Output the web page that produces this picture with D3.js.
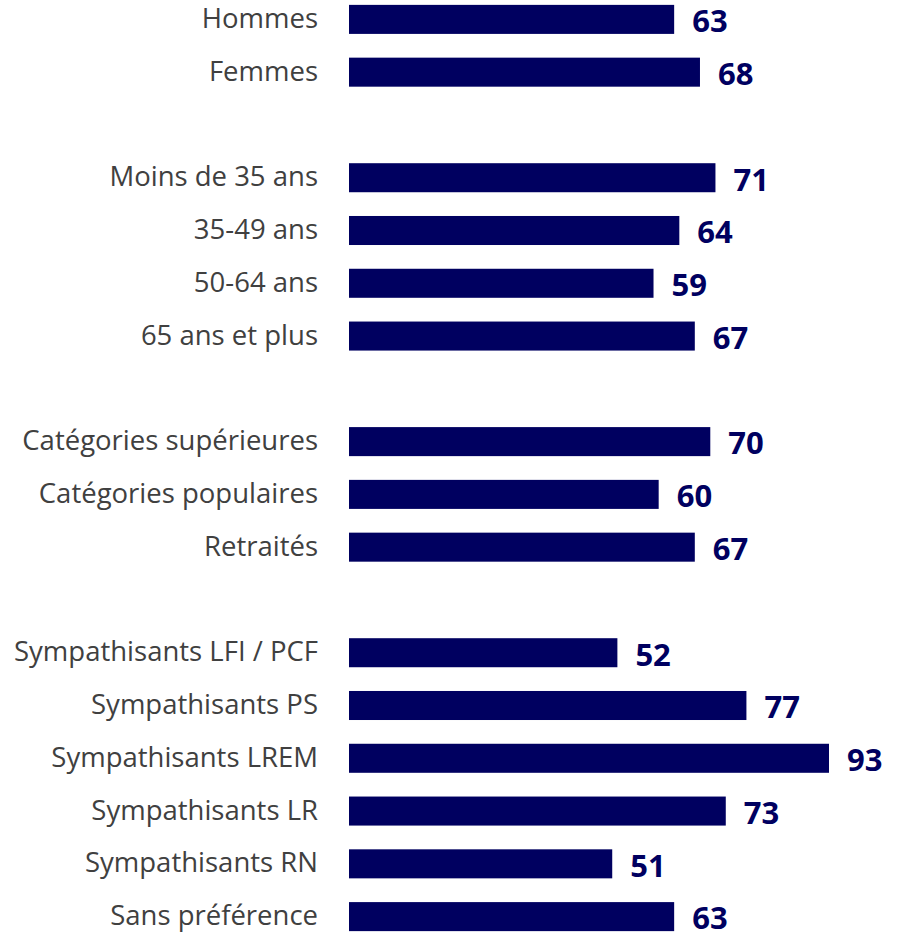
<!DOCTYPE html>
<meta charset="utf-8">
<script src="https://cdn.jsdelivr.net/npm/d3@7"></script>
<style>
  body { margin: 0; background: #fff; }
  .label { fill: #404040; font: 27.5px "Open Sans", sans-serif; }
  .value { fill: #000060; font: bold 31px "Open Sans", sans-serif; }
</style>
<body>
<script>
  // rows, "" = blank spacer row between groups
  var categories = [
    "Hommes", "Femmes", "",
    "Moins de 35 ans", "35-49 ans", "50-64 ans", "65 ans et plus", "",
    "Catégories supérieures", "Catégories populaires", "Retraités", "",
    "Sympathisants LFI / PCF", "Sympathisants PS", "Sympathisants LREM",
    "Sympathisants LR", "Sympathisants RN", "Sans préférence"
  ];
  var values = [63, 68, null, 71, 64, 59, 67, null, 70, 60, 67, null, 52, 77, 93, 73, 51, 63];

  var width = 897, height = 938;
  var x0 = 349;

  var svg = d3.select("body").append("svg")
    .attr("width", width)
    .attr("height", height);

  var y = d3.scaleBand()
    .domain(d3.range(categories.length))
    .range([-7, 943])
    .paddingInner(0.45)
    .paddingOuter(0.225);

  var x = d3.scaleLinear()
    .domain([0, 93])
    .range([x0, 829]);

  var rows = categories.map(function (c, i) {
    return { name: c, value: values[i], i: i };
  }).filter(function (d) { return d.value != null; });

  svg.selectAll("rect.bar")
    .data(rows)
    .enter().append("rect")
    .attr("class", "bar")
    .attr("x", x0)
    .attr("y", function (d) { return y(d.i); })
    .attr("width", function (d) { return x(d.value) - x0; })
    .attr("height", y.bandwidth())
    .attr("fill", "#000060");

  svg.selectAll("text.label")
    .data(rows)
    .enter().append("text")
    .attr("class", "label")
    .attr("x", 318)
    .attr("y", function (d) { return y(d.i) + y.bandwidth() / 2 - 1; })
    .attr("dy", "0.35em")
    .attr("text-anchor", "end")
    .text(function (d) { return d.name; });

  svg.selectAll("text.value")
    .data(rows)
    .enter().append("text")
    .attr("class", "value")
    .attr("x", function (d) { return x(d.value) + 18; })
    .attr("y", function (d) { return y(d.i) + y.bandwidth() / 2 + 2; })
    .attr("dy", "0.35em")
    .text(function (d) { return d.value; });
</script>
</body>
